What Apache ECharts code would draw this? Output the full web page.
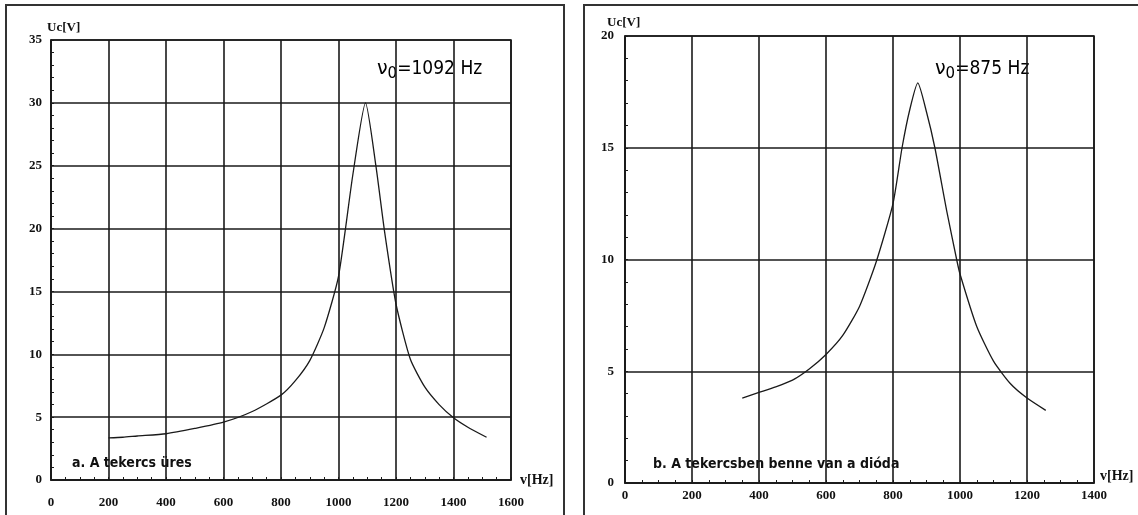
<!DOCTYPE html>
<html>
<head>
<meta charset="utf-8">
<script src="https://cdn.jsdelivr.net/npm/echarts@6/dist/echarts.min.js"></script>
<style>
html, body { margin: 0; padding: 0; background: #fff; }
#chart { width: 1138px; height: 515px; }
</style>
</head>
<body>
<div id="chart"></div>
<script>
// a. A tekercs üres
var freqA = [200, 250, 300, 400, 500, 600, 700, 800, 850, 900, 950, 1000, 1050, 1094, 1130, 1160, 1200, 1250, 1300, 1350, 1400, 1450, 1515];
var ucA   = [3.35, 3.4, 3.5, 3.68, 4.1, 4.6, 5.45, 6.75, 7.9, 9.5, 12.1, 16.2, 24.3, 30, 25, 19.8, 14, 9.6, 7.4, 6, 4.95, 4.2, 3.4];

// b. A tekercsben benne van a dióda
var freqB = [350, 400, 450, 500, 550, 600, 650, 700, 750, 800, 827, 850, 874, 900, 925, 960, 990, 1000, 1050, 1100, 1150, 1200, 1256];
var ucB   = [3.8, 4.05, 4.3, 4.6, 5.1, 5.75, 6.6, 7.9, 9.9, 12.5, 15, 16.7, 17.9, 16.6, 15, 12.2, 10, 9.35, 7.0, 5.45, 4.45, 3.8, 3.25];

var xTicksA = [0, 200, 400, 600, 800, 1000, 1200, 1400, 1600];
var yTicksA = [0, 5, 10, 15, 20, 25, 30, 35];
var xTicksB = [0, 200, 400, 600, 800, 1000, 1200, 1400];
var yTicksB = [0, 5, 10, 15, 20];

function pairs(xs, ys) {
    return xs.map(function (x, i) { return [x, ys[i]]; });
}

var ink = '#1a1a1a';
var labelFont = { fontFamily: 'Liberation Serif', fontWeight: 'bold', fontSize: 13, color: '#111' };

function plain(v) { return String(v); }

function xAxisOf(ticks, gridIndex, margin, gap, vAlign) {
    return {
        type: 'value', gridIndex: gridIndex,
        min: ticks[0], max: ticks[ticks.length - 1], interval: ticks[1] - ticks[0],
        name: 'v[Hz]', nameLocation: 'end', nameGap: gap,
        nameTextStyle: Object.assign({}, labelFont, { fontSize: 14, verticalAlign: vAlign }),
        axisLine: { show: true, lineStyle: { color: ink, width: 1.6 } },
        axisTick: { show: true, inside: true, length: 3, lineStyle: { color: ink } },
        minorTick: { show: true, splitNumber: 4, length: 3, lineStyle: { color: ink, width: 1 } },
        axisLabel: Object.assign({ margin: margin, formatter: plain }, labelFont),
        splitLine: { show: true, lineStyle: { color: ink, width: 1.6 } }
    };
}

function yAxisOf(ticks, gridIndex, margin, gap, pad) {
    return {
        type: 'value', gridIndex: gridIndex,
        min: ticks[0], max: ticks[ticks.length - 1], interval: ticks[1] - ticks[0],
        name: 'Uc[V]', nameLocation: 'end', nameGap: gap,
        nameTextStyle: Object.assign({}, labelFont, { align: 'left', padding: pad }),
        axisLine: { show: true, lineStyle: { color: ink, width: 1.6 } },
        axisTick: { show: true, inside: true, length: 3, lineStyle: { color: ink } },
        minorTick: { show: true, splitNumber: 5, length: 3, lineStyle: { color: ink, width: 1 } },
        axisLabel: Object.assign({ margin: margin, formatter: plain }, labelFont),
        splitLine: { show: true, lineStyle: { color: ink, width: 1.6 } }
    };
}

var noteRich = {
    n: { fontFamily: 'DejaVu Sans', fontSize: 19, color: '#111' },
    s: { fontFamily: 'DejaVu Sans', fontSize: 15, color: '#111', padding: [10, 0, 0, 0] },
    t: { fontFamily: 'DejaVu Sans Condensed', fontSize: 19, color: '#111' }
};
var captionStyle = { fontFamily: 'DejaVu Sans Condensed', fontSize: 14, fontWeight: 'bold', fill: '#111' };

var myChart = echarts.init(document.getElementById('chart'), null, { renderer: 'canvas' });

var option = {
    backgroundColor: '#fff',
    animation: false,
    grid: [
        { left: 51, top: 40, width: 460, height: 440, show: true, borderColor: ink, borderWidth: 1.6 },
        { left: 625, top: 36, width: 469, height: 447, show: true, borderColor: ink, borderWidth: 1.6 }
    ],
    xAxis: [
        xAxisOf(xTicksA, 0, 16, 9, 'middle'),
        xAxisOf(xTicksB, 1, 6, 6, 'bottom')
    ],
    yAxis: [
        yAxisOf(yTicksA, 0, 9, 6, [0, 0, 0, -4]),
        yAxisOf(yTicksB, 1, 11, 7, [0, 0, 0, -18])
    ],
    graphic: [
        // panel frames
        { type: 'rect', shape: { x: 6, y: 5, width: 558, height: 530 }, style: { fill: null, stroke: '#333', lineWidth: 2 } },
        { type: 'rect', shape: { x: 584, y: 5, width: 600, height: 530 }, style: { fill: null, stroke: '#333', lineWidth: 2 } },
        // resonance frequencies
        { type: 'text', left: 377, top: 60, style: { text: '{n|ν}{s|0}{t|=1092 Hz}', rich: noteRich } },
        { type: 'text', left: 935, top: 60, style: { text: '{n|ν}{s|0}{t|=875 Hz}', rich: noteRich } },
        // captions
        { type: 'text', left: 72, top: 456, style: Object.assign({ text: 'a. A tekercs üres' }, captionStyle) },
        { type: 'text', left: 653, top: 457, style: Object.assign({ text: 'b. A tekercsben benne van a dióda' }, captionStyle) }
    ],
    series: [
        {
            type: 'line', xAxisIndex: 0, yAxisIndex: 0,
            data: pairs(freqA, ucA),
            smooth: 0.2, showSymbol: false,
            lineStyle: { color: ink, width: 1.3 }
        },
        {
            type: 'line', xAxisIndex: 1, yAxisIndex: 1,
            data: pairs(freqB, ucB),
            smooth: 0.2, showSymbol: false,
            lineStyle: { color: ink, width: 1.3 }
        }
    ]
};

myChart.setOption(option);
</script>
</body>
</html>
